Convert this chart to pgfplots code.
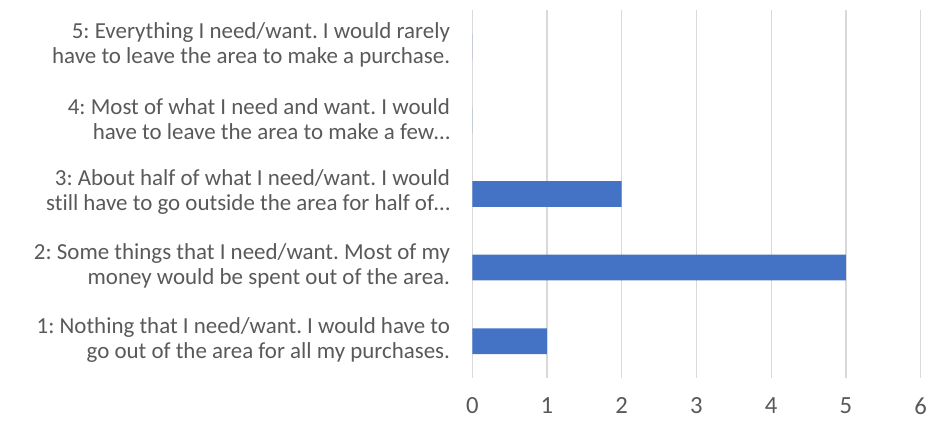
\documentclass[border=0pt]{standalone}
\usepackage{pgfplots}
\pgfplotsset{compat=1.18}
\usepackage{fontspec}
\setmainfont{Carlito}[Ligatures=NoCommon]
\frenchspacing
\definecolor{barblue}{HTML}{4472C4}
\definecolor{txtgray}{HTML}{595959}
\definecolor{gridgray}{HTML}{D9D9D9}
\begin{document}
\begin{tikzpicture}
\begin{axis}[
    at={(0,0)}, anchor=south west,
    scale only axis,
    width=336.3pt, height=276pt,
    xbar,
    xmin=0, xmax=6,
    ymin=0.5, ymax=5.5,
    xtick={0,...,6},
    ytick={1,2,3,4,5},
    yticklabels={
        {1: Nothing that I need/want. I would have to\\go out of the area for all my purchases.},
        {2: Some things that I need/want. Most of my\\money would be spent out of the area.},
        {3: About half of what I need/want. I would\\still have to go outside the area for half of\dots},
        {4: Most of what I need and want. I would\\have to leave the area to make a few\dots},
        {5: Everything I need/want. I would rarely\\have to leave the area to make a purchase.}
    },
    bar width=0.35,
    axis line style={draw=none},
    major tick length=0pt,
    xmajorgrids,
    grid style={gridgray, line width=0.9pt},
    /pgf/number format/assume math mode=true,
    ticklabel style={text=txtgray},
    yticklabel style={font=\fontsize{17.2pt}{18.75pt}\selectfont,
        align=right, inner sep=0pt, xshift=-16.5pt, yshift=1.2pt},
    xticklabel style={font=\fontsize{18.5pt}{20pt}\selectfont, yshift=-11pt},
]
\addplot[fill=barblue, draw=none] coordinates {(1,1) (5,2) (2,3) (0,4) (0,5)};
\coordinate (sw) at (rel axis cs:0,0);
\coordinate (ne) at (rel axis cs:1,1);
\end{axis}
\pgfresetboundingbox
\path (sw) ++(-354.2pt,-44.25pt) coordinate (bl);
\path (ne) ++(20.5pt,7.5pt) coordinate (tr);
\path[use as bounding box] (bl) rectangle (tr);
\end{tikzpicture}
\end{document}
